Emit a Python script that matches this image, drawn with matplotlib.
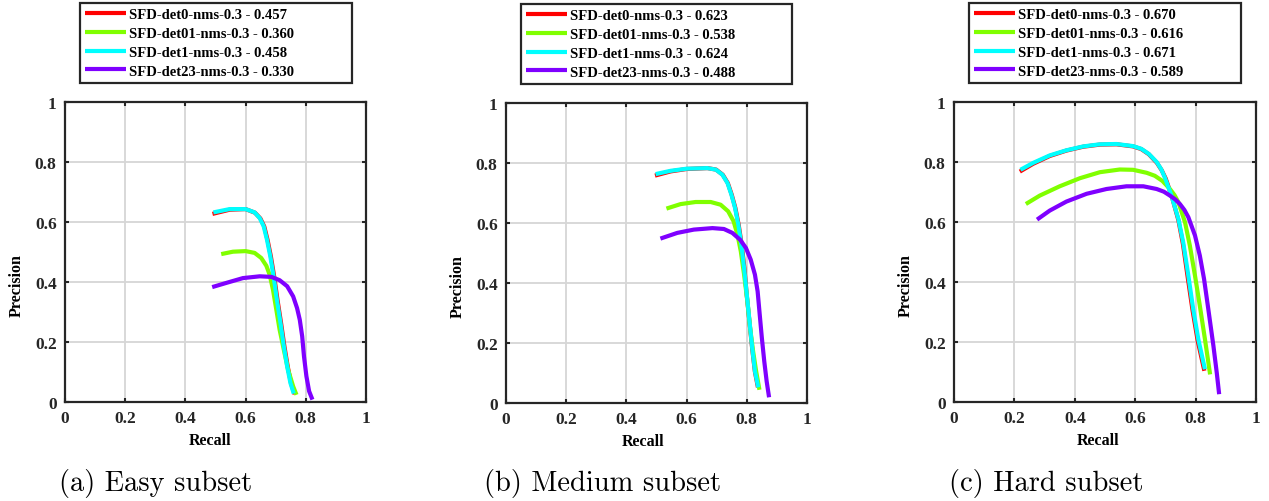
"""PR curves of SFD detectors on the easy / medium / hard subsets"""
import matplotlib
matplotlib.use("Agg")
import matplotlib.pyplot as plt

# ---- data ----
labels = ["SFD-det0-nms-0.3", "SFD-det01-nms-0.3", "SFD-det1-nms-0.3", "SFD-det23-nms-0.3"]
colors = ["#ff0000", "#80ff00", "#00ffff", "#7f00ff"]
captions = ["(a) Easy subset", "(b) Medium subset", "(c) Hard subset"]

ap_easy = [0.457, 0.360, 0.458, 0.330]
ap_medium = [0.623, 0.538, 0.624, 0.488]
ap_hard = [0.670, 0.616, 0.671, 0.589]

# easy subset
easy_det0_r = [0.490, 0.547, 0.600, 0.631, 0.649, 0.662, 0.673, 0.684, 0.695, 0.706, 0.718,
               0.729, 0.740, 0.751, 0.763]
easy_det0_p = [0.627, 0.641, 0.643, 0.631, 0.612, 0.585, 0.540, 0.485, 0.418, 0.340, 0.262,
               0.185, 0.118, 0.062, 0.026]
easy_det01_r = [0.519, 0.558, 0.600, 0.630, 0.652, 0.669, 0.680, 0.691, 0.702, 0.713, 0.727,
                0.741, 0.758, 0.769]
easy_det01_p = [0.493, 0.501, 0.503, 0.497, 0.480, 0.454, 0.424, 0.374, 0.308, 0.241, 0.174,
                0.108, 0.052, 0.024]
easy_det1_r = [0.493, 0.547, 0.600, 0.630, 0.647, 0.660, 0.671, 0.682, 0.693, 0.704, 0.716,
               0.727, 0.738, 0.749, 0.760]
easy_det1_p = [0.632, 0.643, 0.643, 0.632, 0.613, 0.586, 0.541, 0.486, 0.419, 0.341, 0.263,
               0.186, 0.119, 0.063, 0.028]
easy_det23_r = [0.489, 0.536, 0.591, 0.647, 0.686, 0.713, 0.738, 0.758, 0.771, 0.780, 0.788,
                0.794, 0.802, 0.811, 0.822]
easy_det23_p = [0.383, 0.397, 0.413, 0.419, 0.417, 0.406, 0.386, 0.352, 0.313, 0.274, 0.219,
                0.152, 0.086, 0.036, 0.008]

# medium subset
medium_det0_r = [0.495, 0.547, 0.600, 0.669, 0.698, 0.720, 0.737, 0.750, 0.762, 0.773, 0.783,
                 0.792, 0.800, 0.809, 0.818, 0.827, 0.837]
medium_det0_p = [0.758, 0.772, 0.780, 0.783, 0.778, 0.761, 0.733, 0.694, 0.650, 0.594, 0.528,
                 0.450, 0.358, 0.268, 0.180, 0.104, 0.052]
medium_det01_r = [0.533, 0.580, 0.630, 0.680, 0.713, 0.738, 0.756, 0.769, 0.780, 0.791, 0.802,
                  0.811, 0.821, 0.831, 0.842]
medium_det01_p = [0.648, 0.663, 0.670, 0.670, 0.661, 0.639, 0.606, 0.561, 0.506, 0.428, 0.339,
                  0.250, 0.172, 0.106, 0.044]
medium_det1_r = [0.497, 0.547, 0.600, 0.669, 0.697, 0.719, 0.736, 0.749, 0.761, 0.772, 0.782,
                 0.791, 0.800, 0.809, 0.818, 0.827, 0.838]
medium_det1_p = [0.763, 0.774, 0.781, 0.783, 0.778, 0.761, 0.733, 0.694, 0.650, 0.594, 0.528,
                 0.450, 0.361, 0.272, 0.183, 0.106, 0.052]
medium_det23_r = [0.513, 0.569, 0.624, 0.686, 0.724, 0.752, 0.778, 0.797, 0.813, 0.827, 0.836,
                  0.843, 0.850, 0.858, 0.866, 0.874]
medium_det23_p = [0.548, 0.567, 0.578, 0.583, 0.580, 0.567, 0.544, 0.517, 0.478, 0.428, 0.372,
                  0.294, 0.217, 0.139, 0.072, 0.019]

# hard subset
hard_det0_r = [0.218, 0.262, 0.317, 0.372, 0.428, 0.483, 0.538, 0.593, 0.620, 0.645, 0.672, 0.688,
               0.701, 0.721, 0.743, 0.758, 0.774, 0.790, 0.807, 0.829]
hard_det0_p = [0.768, 0.794, 0.820, 0.838, 0.851, 0.858, 0.859, 0.852, 0.843, 0.826, 0.797, 0.772,
               0.745, 0.686, 0.606, 0.527, 0.415, 0.305, 0.204, 0.104]
hard_det01_r = [0.238, 0.284, 0.350, 0.417, 0.483, 0.549, 0.593, 0.638, 0.665, 0.690, 0.715, 0.730,
                0.743, 0.765, 0.781, 0.798, 0.814, 0.831, 0.848]
hard_det01_p = [0.660, 0.688, 0.719, 0.746, 0.766, 0.775, 0.774, 0.764, 0.754, 0.737, 0.710, 0.690,
                0.666, 0.599, 0.521, 0.421, 0.321, 0.209, 0.092]
hard_det1_r = [0.220, 0.262, 0.317, 0.372, 0.428, 0.483, 0.538, 0.593, 0.620, 0.645, 0.671, 0.686,
               0.698, 0.720, 0.743, 0.759, 0.776, 0.792, 0.809, 0.831]
hard_det1_p = [0.774, 0.797, 0.822, 0.839, 0.852, 0.859, 0.860, 0.853, 0.844, 0.827, 0.800, 0.776,
               0.749, 0.688, 0.610, 0.532, 0.421, 0.310, 0.209, 0.109]
hard_det23_r = [0.275, 0.317, 0.372, 0.439, 0.505, 0.571, 0.627, 0.671, 0.695, 0.715, 0.733, 0.748,
                0.763, 0.776, 0.798, 0.814, 0.828, 0.842, 0.859, 0.870, 0.878]
hard_det23_p = [0.608, 0.638, 0.668, 0.694, 0.710, 0.719, 0.719, 0.710, 0.701, 0.688, 0.675, 0.660,
                0.640, 0.616, 0.555, 0.488, 0.410, 0.310, 0.187, 0.098, 0.026]

subsets = [
    ([(easy_det0_r, easy_det0_p), (easy_det01_r, easy_det01_p),
      (easy_det1_r, easy_det1_p), (easy_det23_r, easy_det23_p)], ap_easy),
    ([(medium_det0_r, medium_det0_p), (medium_det01_r, medium_det01_p),
      (medium_det1_r, medium_det1_p), (medium_det23_r, medium_det23_p)], ap_medium),
    ([(hard_det0_r, hard_det0_p), (hard_det01_r, hard_det01_p),
      (hard_det1_r, hard_det1_p), (hard_det23_r, hard_det23_p)], ap_hard),
]

W, H = 1269, 502
fig = plt.figure(figsize=(W / 100, H / 100), dpi=100)

# pixel boxes (left, top, right, bottom) of each axes and legend
ax_px = [(65, 103, 366, 403), (506, 104, 807, 404), (954, 103, 1256, 403)]
leg_px = [(80, 4, 352), (521, 5, 792), (969, 4, 1241)]
ylabel_px = [(17, 286), (458, 287), (906, 286)]
xlabel_px = [(210, 441), (643, 442), (1098, 441)]
caption_px = [(156, 484), (603, 484), (1046, 484)]

serif_bold = dict(family="Liberation Serif", weight="bold")

for i, (curves, aps) in enumerate(subsets):
    l, t, r, b = ax_px[i]
    ax = fig.add_axes([l / W, 1 - b / H, (r - l) / W, (b - t) / H])
    handles = []
    for (rec, prec), lab, col, ap in zip(curves, labels, colors, aps):
        (h,) = ax.plot(rec, prec, color=col, linewidth=3, solid_capstyle="butt",
                       solid_joinstyle="round", label=f"{lab} - {ap:.3f}")
        handles.append(h)
    ax.set_xlim(0, 1)
    ax.set_ylim(0, 1)
    ticks = [0, 0.2, 0.4, 0.6, 0.8, 1]
    ax.set_xticks(ticks)
    ax.set_yticks(ticks)
    ax.set_xticklabels(["0", "0.2", "0.4", "0.6", "0.8", "1"], **serif_bold, fontsize=12.5)
    ax.set_yticklabels(["0", "0.2", "0.4", "0.6", "0.8", "1"], **serif_bold, fontsize=12.5)
    ax.tick_params(direction="in", length=3, width=1.5, top=True, right=True, pad=6,
                   colors="#262626")
    ax.grid(True, color="#d6d6d6", linewidth=1.3)
    ax.set_axisbelow(True)
    for sp in ax.spines.values():
        sp.set_linewidth(1.6)
        sp.set_color("#262626")

    fig.text(ylabel_px[i][0] / W, 1 - ylabel_px[i][1] / H, "Precision", rotation=90,
             ha="center", va="center", fontsize=11.5, **serif_bold)
    fig.text(xlabel_px[i][0] / W, 1 - xlabel_px[i][1] / H, "Recall",
             ha="center", va="center", fontsize=11.5, **serif_bold)
    fig.text(caption_px[i][0] / W, 1 - caption_px[i][1] / H, captions[i],
             ha="center", va="center", fontsize=20.5, family="cmr10")

    lx0, ly0, lx1 = leg_px[i]
    leg = ax.legend(handles=handles, loc="upper left",
                    bbox_to_anchor=(lx0 / W, 1 - ly0 / H - 0.01, (lx1 - lx0) / W, 0.01),
                    bbox_transform=fig.transFigure, mode="expand", borderaxespad=0,
                    prop=dict(family="Liberation Serif", weight="bold", size=10.5),
                    handlelength=2.8, handletextpad=0.2, labelspacing=0.38,
                    borderpad=0.35, fancybox=False, framealpha=1)
    leg.get_frame().set_edgecolor("#262626")
    leg.get_frame().set_linewidth(1.6)
    for line in leg.get_lines():
        line.set_linewidth(3)

fig.savefig("out.png", dpi=100)
